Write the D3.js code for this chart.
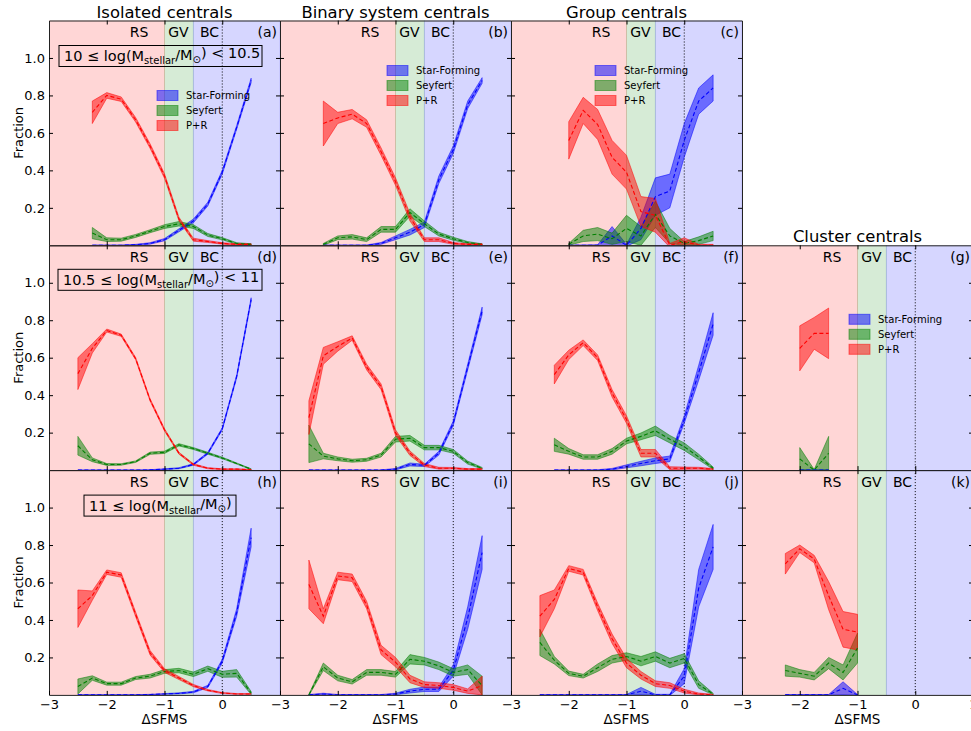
<!DOCTYPE html>
<html>
<head>
<meta charset="utf-8">
<script src="https://cdn.jsdelivr.net/npm/d3@7"></script>
<style>
body { margin: 0; background: #fff; }
text { font-family: "DejaVu Sans", sans-serif; fill: #000; }
</style>
</head>
<body>
<svg id="chart" width="971" height="731"></svg>
<script>
// x bins of delta SFMS
var dsfms = [-2.5, -2.25, -2.0, -1.75, -1.5, -1.25, -1.0, -0.75, -0.5, -0.25, 0, 0.25, 0.5];
var xTicks = [-3, -2, -1, 0, 1];
var yTicks = [0.2, 0.4, 0.6, 0.8, 1.0];
var columnTitles = ["Isolated centrals", "Binary system centrals", "Group centrals", "Cluster centrals"];
var seriesNames = ["Star-Forming", "Seyfert", "P+R"];

// fraction (mean) and half width of the band, one pair per series and panel
// (a) isolated, 10-10.5
var sf_a = [null, 0, 0, 0, 0.003, 0.01, 0.03, 0.08, 0.13, 0.22, 0.39, 0.63, 0.88];
var sf_a_e = [null, 0.002, 0.002, 0.002, 0.002, 0.004, 0.006, 0.008, 0.01, 0.01, 0.01, 0.01, 0.012];
var sy_a = [null, 0.065, 0.03, 0.03, 0.05, 0.075, 0.10, 0.115, 0.10, 0.055, 0.035, 0.01, 0.005];
var sy_a_e = [null, 0.03, 0.01, 0.008, 0.008, 0.008, 0.01, 0.012, 0.01, 0.008, 0.006, 0.004, 0.003];
var pr_a = [null, 0.71, 0.80, 0.78, 0.67, 0.53, 0.37, 0.14, 0.03, 0.02, 0.01, 0.005, 0.005];
var pr_a_e = [null, 0.06, 0.015, 0.012, 0.012, 0.012, 0.012, 0.01, 0.008, 0.005, 0.004, 0.003, 0.003];
// (b) binary, 10-10.5
var sf_b = [null, 0, 0, 0, 0, 0.01, 0.04, 0.07, 0.11, 0.35, 0.51, 0.75, 0.88];
var sf_b_e = [null, 0.002, 0.002, 0.002, 0.002, 0.005, 0.01, 0.015, 0.015, 0.02, 0.02, 0.02, 0.015];
var sy_b = [null, 0.005, 0.04, 0.045, 0.03, 0.085, 0.085, 0.175, 0.115, 0.06, 0.035, 0.015, 0.005];
var sy_b_e = [null, 0.005, 0.01, 0.012, 0.01, 0.015, 0.015, 0.02, 0.015, 0.01, 0.008, 0.005, 0.003];
var pr_b = [null, 0.65, 0.68, 0.70, 0.65, 0.50, 0.34, 0.15, 0.03, 0.03, 0.01, 0.005, 0.005];
var pr_b_e = [null, 0.12, 0.03, 0.025, 0.02, 0.02, 0.02, 0.02, 0.01, 0.01, 0.005, 0.003, 0.003];
// (c) group, 10-10.5
var sf_c = [null, null, 0, 0, 0, 0.05, 0, 0.09, 0.26, 0.29, 0.56, 0.77, 0.84];
var sf_c_e = [null, null, 0.002, 0.002, 0.003, 0.05, 0.005, 0.06, 0.10, 0.09, 0.09, 0.07, 0.07];
var sy_c = [null, null, 0.005, 0.05, 0.06, 0.035, 0.09, 0.05, 0.165, 0.05, 0.01, 0.025, 0.05];
var sy_c_e = [null, null, 0.005, 0.03, 0.035, 0.03, 0.07, 0.05, 0.07, 0.04, 0.01, 0.02, 0.025];
var pr_c = [null, null, 0.56, 0.72, 0.645, 0.47, 0.39, 0.18, 0.16, 0.0, 0.02, 0.0, 0.0];
var pr_c_e = [null, null, 0.10, 0.07, 0.08, 0.09, 0.09, 0.08, 0.09, 0.01, 0.02, 0.005, 0.005];
// (d) isolated, 10.5-11
var sf_d = [0, 0, 0, 0, 0, 0.001, 0.005, 0.01, 0.03, 0.09, 0.22, 0.50, 0.91];
var sf_d_e = [0.001, 0.001, 0.001, 0.001, 0.001, 0.001, 0.002, 0.003, 0.004, 0.005, 0.006, 0.008, 0.01];
var sy_d = [0.13, 0.055, 0.03, 0.03, 0.045, 0.09, 0.095, 0.135, 0.115, 0.09, 0.065, 0.035, 0.005];
var sy_d_e = [0.05, 0.01, 0.005, 0.004, 0.004, 0.006, 0.006, 0.006, 0.005, 0.005, 0.004, 0.003, 0.002];
var pr_d = [0.515, 0.65, 0.745, 0.72, 0.595, 0.375, 0.215, 0.09, 0.03, 0.01, 0.005, 0.005, 0.002];
var pr_d_e = [0.085, 0.025, 0.008, 0.006, 0.006, 0.006, 0.006, 0.005, 0.004, 0.003, 0.002, 0.002, 0.002];
// (e) binary, 10.5-11
var sf_e = [0, 0, 0, 0, 0, 0, 0.005, 0.03, 0.025, 0.09, 0.25, 0.55, 0.85];
var sf_e_e = [0.001, 0.001, 0.001, 0.001, 0.001, 0.001, 0.004, 0.008, 0.006, 0.01, 0.012, 0.015, 0.02];
var sy_e = [0.14, 0.075, 0.06, 0.05, 0.055, 0.08, 0.165, 0.17, 0.12, 0.12, 0.10, 0.04, 0.01];
var sy_e_e = [0.10, 0.015, 0.01, 0.008, 0.008, 0.01, 0.015, 0.015, 0.012, 0.012, 0.01, 0.008, 0.004];
var pr_e = [0.28, 0.61, 0.66, 0.705, 0.55, 0.445, 0.20, 0.09, 0.027, 0.01, 0.01, 0.005, 0.005];
var pr_e_e = [0.09, 0.045, 0.025, 0.012, 0.015, 0.015, 0.015, 0.012, 0.008, 0.005, 0.004, 0.003, 0.003];
// (f) group, 10.5-11
var sf_f = [null, 0, 0, 0, 0, 0.005, 0.02, 0.035, 0.05, 0.06, 0.27, 0.52, 0.78];
var sf_f_e = [null, 0.001, 0.001, 0.001, 0.002, 0.004, 0.008, 0.012, 0.015, 0.015, 0.02, 0.04, 0.06];
var sy_f = [null, 0.135, 0.10, 0.07, 0.07, 0.10, 0.155, 0.18, 0.21, 0.165, 0.125, 0.07, 0.01];
var sy_f_e = [null, 0.035, 0.015, 0.012, 0.012, 0.015, 0.015, 0.018, 0.025, 0.02, 0.02, 0.015, 0.006];
var pr_f = [null, 0.51, 0.615, 0.68, 0.60, 0.41, 0.27, 0.09, 0.09, 0.01, 0.01, 0.01, 0.005];
var pr_f_e = [null, 0.05, 0.025, 0.015, 0.015, 0.02, 0.02, 0.02, 0.02, 0.008, 0.006, 0.005, 0.003];
// (g) cluster, 10.5-11
var sf_g = [null, null, 0, 0, 0, null, null, null, null, null, null, null, null];
var sf_g_e = [null, null, 0.002, 0.002, 0.002, null, null, null, null, null, null, null, null];
var sy_g = [null, null, 0.06, 0.0, 0.09, null, null, null, null, null, null, null, null];
var sy_g_e = [null, null, 0.06, 0.003, 0.09, null, null, null, null, null, null, null, null];
var pr_g = [null, null, 0.65, 0.73, 0.73, null, null, null, null, null, null, null, null];
var pr_g_e = [null, null, 0.12, 0.085, 0.135, null, null, null, null, null, null, null, null];
// (h) isolated, >11
var sf_h = [0, 0, 0, 0, 0, 0.002, 0.005, 0.008, 0.015, 0.045, 0.18, 0.44, 0.84];
var sf_h_e = [0.001, 0.001, 0.001, 0.001, 0.001, 0.001, 0.002, 0.003, 0.004, 0.006, 0.01, 0.02, 0.05];
var sy_h = [0.045, 0.09, 0.06, 0.06, 0.09, 0.10, 0.125, 0.13, 0.11, 0.14, 0.11, 0.115, 0.01];
var sy_h_e = [0.04, 0.012, 0.008, 0.008, 0.008, 0.01, 0.01, 0.012, 0.012, 0.014, 0.016, 0.02, 0.008];
var pr_h = [0.46, 0.53, 0.655, 0.64, 0.43, 0.225, 0.13, 0.09, 0.05, 0.025, 0.01, 0.005, 0.005];
var pr_h_e = [0.10, 0.025, 0.012, 0.012, 0.012, 0.012, 0.01, 0.008, 0.006, 0.004, 0.003, 0.002, 0.002];
// (i) binary, >11
var sf_i = [0, 0.005, 0, 0, 0, 0, 0.005, 0.02, 0.03, 0.03, 0.13, 0.41, 0.76];
var sf_i_e = [0.002, 0.004, 0.002, 0.002, 0.002, 0.002, 0.004, 0.01, 0.012, 0.012, 0.03, 0.06, 0.09];
var sy_i = [0.0, 0.15, 0.09, 0.07, 0.12, 0.12, 0.11, 0.19, 0.18, 0.155, 0.12, 0.135, 0.05];
var sy_i_e = [0.003, 0.02, 0.015, 0.012, 0.015, 0.015, 0.015, 0.025, 0.02, 0.02, 0.02, 0.025, 0.05];
var pr_i = [0.59, 0.42, 0.635, 0.625, 0.48, 0.24, 0.175, 0.085, 0.055, 0.05, 0.04, 0.02, 0.05];
var pr_i_e = [0.13, 0.04, 0.02, 0.02, 0.02, 0.025, 0.025, 0.02, 0.015, 0.015, 0.015, 0.012, 0.05];
// (j) group, >11
var sf_j = [0, 0, 0, 0, 0, 0, 0, 0.02, 0, 0, 0.10, 0.57, 0.79];
var sf_j_e = [0.001, 0.001, 0.001, 0.001, 0.001, 0.001, 0.002, 0.02, 0.003, 0.003, 0.04, 0.10, 0.12];
var sy_j = [0.28, 0.185, 0.115, 0.10, 0.145, 0.19, 0.205, 0.18, 0.205, 0.17, 0.195, 0.055, 0.005];
var sy_j_e = [0.07, 0.02, 0.012, 0.01, 0.02, 0.02, 0.02, 0.025, 0.025, 0.025, 0.025, 0.02, 0.004];
var pr_j = [0.42, 0.51, 0.675, 0.655, 0.47, 0.30, 0.17, 0.105, 0.06, 0.05, 0.02, 0.005, 0.0];
var pr_j_e = [0.11, 0.05, 0.015, 0.015, 0.02, 0.025, 0.025, 0.02, 0.015, 0.015, 0.01, 0.005, 0.003];
// (k) cluster, >11
var sf_k = [null, 0, 0, 0, 0, 0.035, 0, null, null, null, null, null, null];
var sf_k_e = [null, 0.002, 0.002, 0.002, 0.002, 0.035, 0.002, null, null, null, null, null, null];
var sy_k = [null, 0.13, 0.115, 0.10, 0.17, 0.12, 0.25, null, null, null, null, null, null];
var sy_k_e = [null, 0.03, 0.02, 0.02, 0.03, 0.04, 0.08, null, null, null, null, null, null];
var pr_k = [null, 0.70, 0.78, 0.725, 0.53, 0.35, 0.335, null, null, null, null, null, null];
var pr_k_e = [null, 0.055, 0.02, 0.02, 0.075, 0.095, 0.095, null, null, null, null, null, null];

var panels = [
  {id: "a", row: 0, col: 0, sf: [sf_a, sf_a_e], sy: [sy_a, sy_a_e], pr: [pr_a, pr_a_e]},
  {id: "b", row: 0, col: 1, sf: [sf_b, sf_b_e], sy: [sy_b, sy_b_e], pr: [pr_b, pr_b_e]},
  {id: "c", row: 0, col: 2, sf: [sf_c, sf_c_e], sy: [sy_c, sy_c_e], pr: [pr_c, pr_c_e]},
  {id: "d", row: 1, col: 0, sf: [sf_d, sf_d_e], sy: [sy_d, sy_d_e], pr: [pr_d, pr_d_e]},
  {id: "e", row: 1, col: 1, sf: [sf_e, sf_e_e], sy: [sy_e, sy_e_e], pr: [pr_e, pr_e_e]},
  {id: "f", row: 1, col: 2, sf: [sf_f, sf_f_e], sy: [sy_f, sy_f_e], pr: [pr_f, pr_f_e]},
  {id: "g", row: 1, col: 3, sf: [sf_g, sf_g_e], sy: [sy_g, sy_g_e], pr: [pr_g, pr_g_e]},
  {id: "h", row: 2, col: 0, sf: [sf_h, sf_h_e], sy: [sy_h, sy_h_e], pr: [pr_h, pr_h_e]},
  {id: "i", row: 2, col: 1, sf: [sf_i, sf_i_e], sy: [sy_i, sy_i_e], pr: [pr_i, pr_i_e]},
  {id: "j", row: 2, col: 2, sf: [sf_j, sf_j_e], sy: [sy_j, sy_j_e], pr: [pr_j, pr_j_e]},
  {id: "k", row: 2, col: 3, sf: [sf_k, sf_k_e], sy: [sy_k, sy_k_e], pr: [pr_k, pr_k_e]}
];

// mass bins (drawn in the first column)
var massLow = ["10", "10.5", "11"];
var massHigh = ["10.5", "11", null];

// layout
var left0 = 49, pw = 231, top0 = 20.5, ph = 224.8;
var legendPos = {a: [108, 75], b: [107, 50], c: [84, 50], g: [107, 74]};
var massBox = [[10, 25, 203], [9, 24, 204], [35, 25, 152]];
var colors = {sf: "#0000ff", sy: "#008000", pr: "#ff0000"};
var zones = [
  {label: "RS", from: -3, to: -1, color: "#ff0000", at: -1.44},
  {label: "GV", from: -1, to: -0.5, color: "#008000", at: -0.76},
  {label: "BC", from: -0.5, to: 1, color: "#0000ff", at: -0.22}
];

var svg = d3.select("#chart");
var x = d3.scaleLinear().domain([-3, 1]).range([0, pw]);
var y = d3.scaleLinear().domain([0, 1.2]).range([ph, 0]);

var area = d3.area()
  .defined(function(d) { return d.m != null; })
  .x(function(d) { return x(d.x); })
  .y0(function(d) { return y(d.m - d.e); })
  .y1(function(d) { return y(d.m + d.e); });
var line = d3.line()
  .defined(function(d) { return d.m != null; })
  .x(function(d) { return x(d.x); })
  .y(function(d) { return y(d.m); });

function rows(pair) {
  return dsfms.map(function(v, i) { return {x: v, m: pair[0][i], e: pair[1][i]}; });
}

panels.forEach(function(p) {
  var g = svg.append("g")
    .attr("transform", "translate(" + (left0 + p.col * pw) + "," + (top0 + p.row * ph) + ")");
  g.append("clipPath").attr("id", "clip-" + p.id)
    .append("rect").attr("width", pw).attr("height", ph);
  var inner = g.append("g").attr("clip-path", "url(#clip-" + p.id + ")");

  zones.forEach(function(z) {
    inner.append("rect")
      .attr("x", x(z.from)).attr("y", -2)
      .attr("width", x(z.to) - x(z.from)).attr("height", ph + 4)
      .attr("fill", z.color).attr("fill-opacity", 0.16)
      .attr("stroke", z.color).attr("stroke-opacity", 0.12).attr("stroke-width", 1);
  });
  inner.append("line")
    .attr("x1", x(0)).attr("x2", x(0)).attr("y1", 0).attr("y2", ph)
    .attr("stroke", "#000").attr("stroke-width", 1).attr("stroke-dasharray", "1,2");

  ["sf", "sy", "pr"].forEach(function(k) {
    inner.append("path").datum(rows(p[k]))
      .attr("d", area)
      .attr("fill", colors[k]).attr("fill-opacity", 0.5)
      .attr("stroke", colors[k]).attr("stroke-opacity", 0.5).attr("stroke-width", 1);
  });
  ["sf", "sy", "pr"].forEach(function(k) {
    inner.append("path").datum(rows(p[k]))
      .attr("d", line)
      .attr("fill", "none")
      .attr("stroke", colors[k]).attr("stroke-width", 1.1)
      .attr("stroke-dasharray", "4,2.5");
  });

  // axes, ticks pointing inward
  var leftAxis = d3.axisLeft(y).tickValues(yTicks).tickSize(-4).tickSizeOuter(0).tickPadding(4)
    .tickFormat(p.col == 0 ? d3.format(".1f") : "");
  var rightAxis = d3.axisRight(y).tickValues(yTicks).tickSize(-4).tickSizeOuter(0).tickFormat("");
  var topAxis = d3.axisTop(x).tickValues([-2, -1, 0]).tickSize(-4).tickSizeOuter(0).tickFormat("");
  var bottom = p.row == 2;
  var bottomAxis = d3.axisBottom(x)
    .tickValues(bottom ? (p.col == 3 ? xTicks : xTicks.slice(0, 4)) : [-2, -1, 0])
    .tickSize(-4).tickSizeOuter(0).tickPadding(5)
    .tickFormat(bottom ? d3.format("d") : "");

  [[leftAxis, 0, 0], [rightAxis, pw, 0], [topAxis, 0, 0], [bottomAxis, 0, ph]].forEach(function(a) {
    var ax = g.append("g").attr("transform", "translate(" + a[1] + "," + a[2] + ")").call(a[0]);
    ax.select(".domain").attr("stroke", "#222");
    ax.selectAll(".tick line").attr("stroke", "#000");
    ax.selectAll("text").style("font-size", "13px").attr("fill", "#000");
  });

  // zone labels and panel letter
  zones.forEach(function(z) {
    g.append("text")
      .attr("x", x(z.at)).attr("y", 12)
      .attr("text-anchor", "middle").attr("dy", "0.35em")
      .style("font-size", "14px").text(z.label);
  });
  g.append("text")
    .attr("x", pw - 3).attr("y", 12).attr("dy", "0.35em")
    .attr("text-anchor", "end").style("font-size", "14px")
    .text("(" + p.id + ")");

  if (p.col == 0) {
    g.append("text")
      .attr("transform", "translate(" + (-31) + "," + (ph / 2) + ") rotate(-90)")
      .attr("text-anchor", "middle").attr("dy", "0.35em")
      .style("font-size", "13px").text("Fraction");

    var mb = massBox[p.row];
    var t = g.append("text")
      .attr("x", mb[0] + 5).attr("y", mb[1] + 10.5).attr("dy", "0.35em")
      .style("font-size", "14.5px");
    t.append("tspan").text(massLow[p.row] + " \u2264 log(M");
    t.append("tspan").attr("dy", "0.3em").style("font-size", "10px").text("stellar");
    t.append("tspan").attr("dy", "-0.3em").text("/M");
    t.append("tspan").attr("dy", "0.3em").style("font-size", "10px").text("\u2299");
    t.append("tspan").attr("dy", "-0.3em").text(")" + (massHigh[p.row] ? " < " + massHigh[p.row] : ""));
    g.append("rect")
      .attr("x", mb[0]).attr("y", mb[1])
      .attr("width", mb[2]).attr("height", 21)
      .attr("fill", "none").attr("stroke", "#000").attr("stroke-width", 1);
  }

  if (p.row == 2) {
    g.append("text")
      .attr("x", pw / 2).attr("y", ph + 24).attr("dy", "0.35em")
      .attr("text-anchor", "middle").style("font-size", "13.5px")
      .text("\u0394SFMS");
  }

  if (legendPos[p.id]) {
    var lg = g.append("g")
      .attr("transform", "translate(" + legendPos[p.id][0] + "," + legendPos[p.id][1] + ")");
    ["sf", "sy", "pr"].forEach(function(k, i) {
      lg.append("rect")
        .attr("x", 0).attr("y", i * 15 - 5)
        .attr("width", 21).attr("height", 10)
        .attr("fill", colors[k]).attr("fill-opacity", 0.5)
        .attr("stroke", colors[k]).attr("stroke-opacity", 0.5);
      lg.append("text")
        .attr("x", 29).attr("y", i * 15).attr("dy", "0.35em")
        .style("font-size", "10px").text(seriesNames[i]);
    });
  }
});

// column titles
columnTitles.forEach(function(tt, c) {
  svg.append("text")
    .attr("x", left0 + c * pw + pw / 2)
    .attr("y", c == 3 ? top0 + ph - 3.5 : top0 - 3)
    .attr("text-anchor", "middle")
    .style("font-size", "16.4px")
    .text(tt);
});
</script>
</body>
</html>
